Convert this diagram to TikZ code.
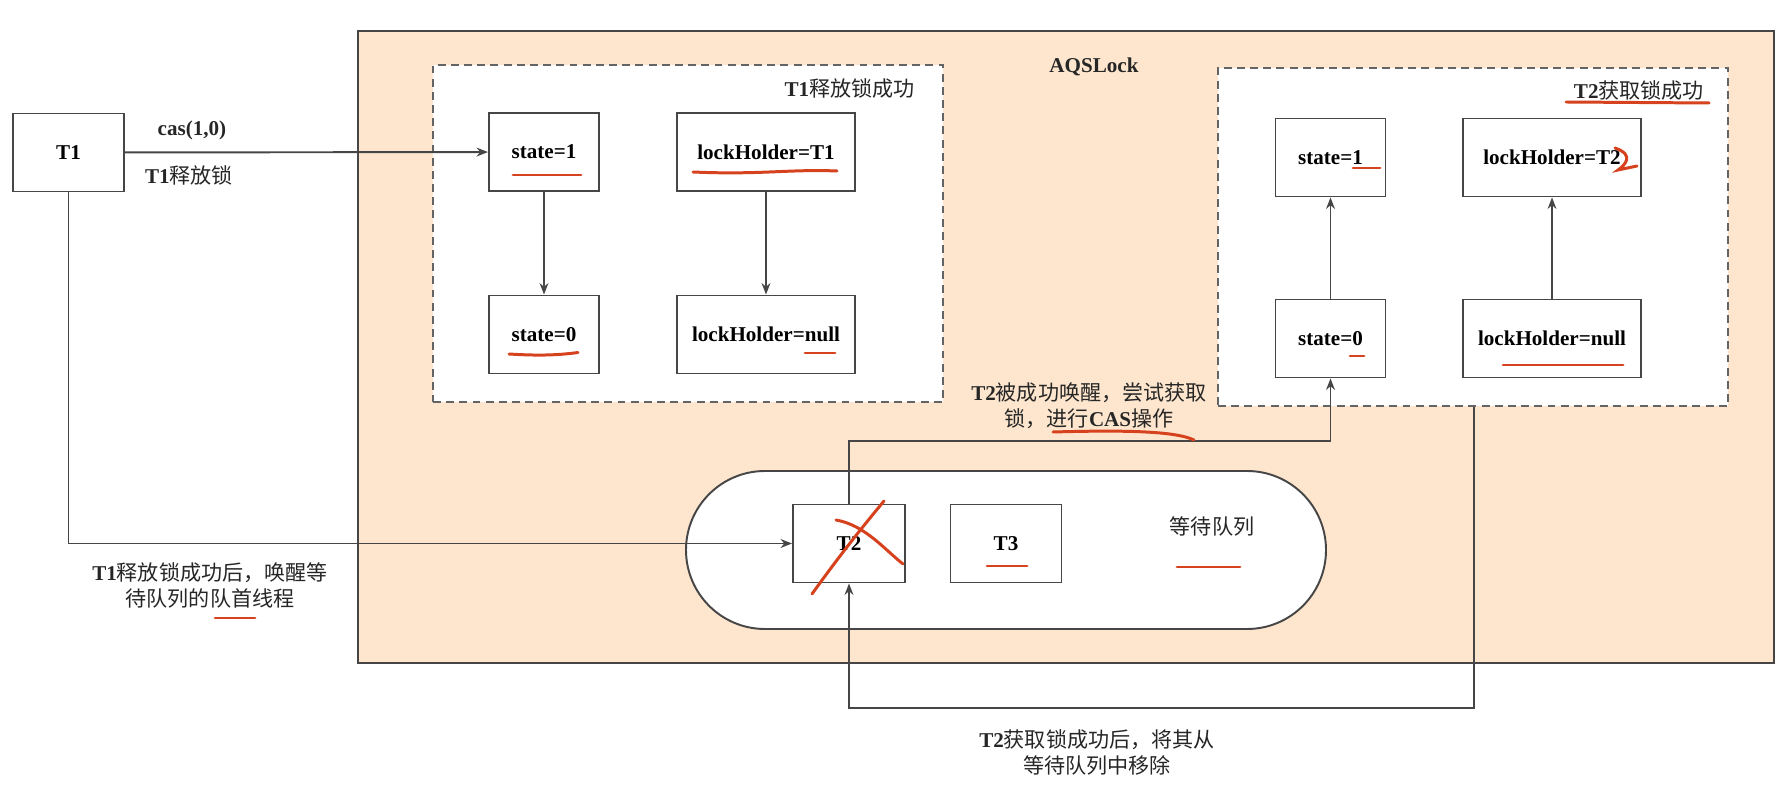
\documentclass[tikz,border=0pt]{standalone}
\usepackage{fontspec}
\setmainfont{Liberation Serif}
\newfontfamily\cjk{Noto Sans CJK SC}
\usepackage{tikz}
\usetikzlibrary{arrows.meta,positioning,calc}
\definecolor{aqsorange}{RGB}{253,230,205}
\definecolor{linegray} {RGB}{70,70,70}
\definecolor{dashgray} {RGB}{100,100,100}
\definecolor{penred}   {RGB}{214,66,30}
\newcommand{\zh}[1]{{\cjk\mdseries #1}}
\tikzset{
  varbox/.style ={draw=linegray, fill=white, line width=1.1pt, align=center,
                  minimum width=#1, minimum height=1.56cm, inner sep=2pt},
  varbox/.default=2.2cm,
  lockbox/.style={varbox=3.56cm},
  thrbox/.style ={varbox=2.22cm},
  grpbox/.style ={draw=dashgray, dash pattern=on 4.5pt off 3pt,
                  line width=1.2pt, fill=white, inner sep=0pt},
  arr/.style    ={-{Stealth[length=6.5pt,width=5pt]}, line width=1.1pt, draw=linegray},
  note/.style   ={align=center, text=black!85, inner sep=0pt},
  redpen/.style ={draw=penred, line width=1.7pt, line cap=round},
}

\begin{document}
\fontsize{12}{14.8}\selectfont\bfseries
\begin{tikzpicture}
\useasboundingbox (0,0) rectangle (35.84,16.1);

%% ─── AQSLock frame ───────────────────────────────────────────────────────────
\node[draw=linegray, line width=1.2pt, fill=aqsorange, inner sep=0pt,
      minimum width=28.32cm, minimum height=12.64cm] (AQS) at (21.32,9.16) {};
\node[note] (aqsname) at (21.88,14.76) {AQSLock};

%% ─── Thread T1 ───────────────────────────────────────────────────────────────
\node[thrbox] (T1) at (1.37,13.05) {T1};
\node[note] (cas) at (3.84,13.5) {cas(1,0)};
\node[note] (rel) at (3.78,12.6) {T1\zh{释放锁}};

%% ─── Group 1: T1 releases ────────────────────────────────────────────────────
\node[grpbox, minimum width=10.2cm, minimum height=6.74cm] (G1) at (13.76,11.43) {};
\node[note, anchor=east] (g1name) at (18.3,14.32) {T1\zh{释放锁成功}};

\node[varbox]  (S1L)  at (10.88,13.06) {state=1};
\node[lockbox] (LH1)  at (15.32,13.06) {lockHolder=T1};
\node[varbox]  (S0L)  at (10.88,9.41)  {state=0};
\node[lockbox] (LHnL) at (15.32,9.41)  {lockHolder=null};

\draw[arr] (S1L) -- (S0L);
\draw[arr] (LH1) -- (LHnL);

%% ─── Group 2: T2 acquires ────────────────────────────────────────────────────
\node[grpbox, minimum width=10.2cm, minimum height=6.76cm] (G2) at (29.46,11.36) {};
\node[note] (g2name) at (32.78,14.28) {T2\zh{获取锁成功}};

\node[varbox]  (S1R)  at (26.61,12.95) {state=1};
\node[lockbox] (LH2)  at (31.04,12.95) {lockHolder=T2};
\node[varbox]  (S0R)  at (26.61,9.33)  {state=0};
\node[lockbox] (LHnR) at (31.04,9.33)  {lockHolder=null};

\draw[arr] (S0R) -- (S1R);
\draw[arr] (LHnR) -- (LH2);

%% ─── Waiting queue ───────────────────────────────────────────────────────────
\node[draw=linegray, line width=1.1pt, fill=white, rounded corners=1.58cm,
      minimum width=12.8cm, minimum height=3.16cm] (queue) at (20.12,5.1) {};
\node[thrbox, minimum width=2.24cm] (T2) at (16.98,5.23) {T2};
\node[thrbox] (T3) at (20.12,5.23) {T3};
\node[note] (qname) at (24.24,5.58) {\zh{等待队列}};

%% ─── Connectors ──────────────────────────────────────────────────────────────
\draw[arr] (T1) -- (S1L);
\draw[arr] (T1.south) |- (T2.west);

\coordinate (wake) at (26.61,7.28);
\draw[arr] (T2.north) |- (wake) -- (S0R.south);

\coordinate (drop) at (29.48,1.94);
\draw[arr] (drop |- G2.south) -- (drop) -| (T2.south);

\node[note] (wakenote) at (21.78,7.99)
  {T2\zh{被成功唤醒，尝试获取}\\\zh{锁，进行}CAS\zh{操作}};
\node[note] (t1note) at (4.2,4.4)
  {T1\zh{释放锁成功后，唤醒等}\\\zh{待队列的队首线程}};
\node[note] (t2note) at (21.94,1.05)
  {T2\zh{获取锁成功后，将其从}\\\zh{等待队列中移除}};

%% ─── Red pen marks ───────────────────────────────────────────────────────────
\draw[redpen] (10.26,12.6) -- (11.62,12.6);
\draw[redpen] (13.86,12.66) .. controls (15.2,12.6) and (15.8,12.72) .. (16.74,12.68);
\draw[redpen] (10.18,9.02) .. controls (10.8,8.98) and (11.2,9.0) .. (11.56,9.05);
\draw[redpen] (16.1,9.04) -- (16.7,9.04);
\draw[redpen] (31.32,14.06) -- (34.18,14.04);
\draw[redpen] (27.06,12.74) -- (27.6,12.74);
\draw[redpen] (32.3,13.14) .. controls (32.7,13.0) and (32.5,12.8) .. (32.36,12.7) -- (32.74,12.78);
\draw[redpen] (27.0,8.98) -- (27.28,8.98);
\draw[redpen] (30.06,8.8) -- (32.46,8.8);
\draw[redpen] (21.06,7.46) .. controls (22.5,7.5) and (23.5,7.48) .. (23.88,7.3);
\draw[redpen] (16.24,4.22) .. controls (16.8,5.0) and (17.2,5.5) .. (17.68,6.08);
\draw[redpen] (16.72,5.7) .. controls (17.3,5.6) and (17.7,5.1) .. (18.06,4.82);
\draw[redpen] (19.74,4.78) -- (20.54,4.78);
\draw[redpen] (23.54,4.76) -- (24.8,4.76);
\draw[redpen] (4.3,3.74) -- (5.1,3.74);

\end{tikzpicture}
\end{document}
